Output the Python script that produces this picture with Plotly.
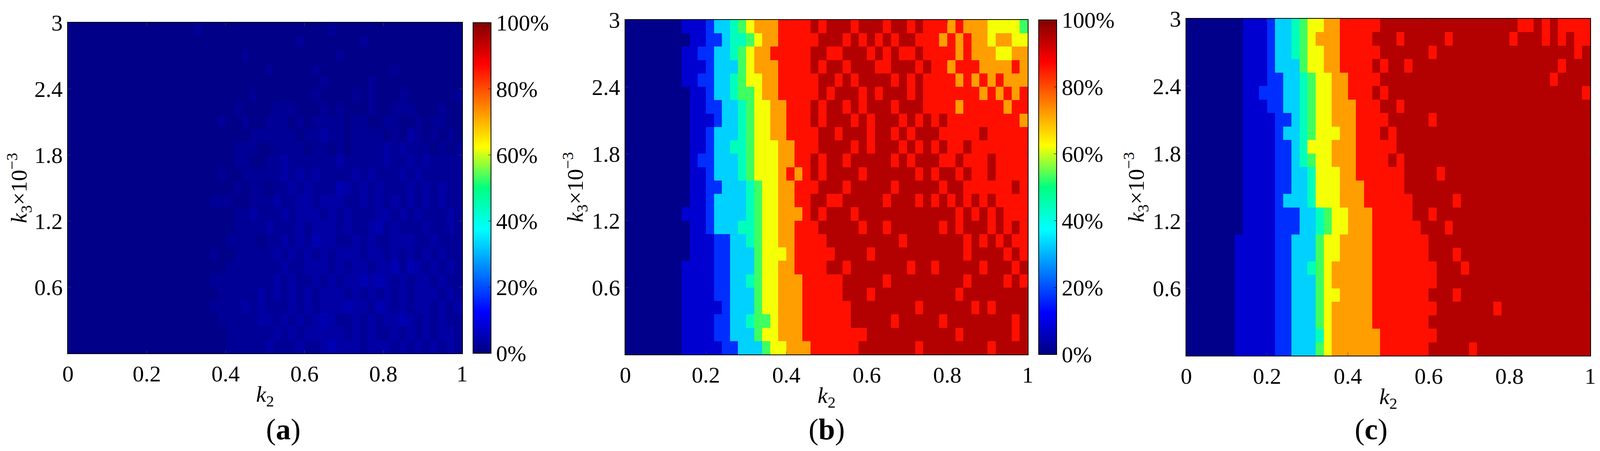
import numpy as np
import plotly.graph_objects as go

# MATLAB-style jet
JET = [[0.0, "rgb(0,0,128)"], [0.125, "rgb(0,0,255)"], [0.375, "rgb(0,255,255)"],
       [0.5, "rgb(0,255,128)"], [0.625, "rgb(255,255,0)"], [0.875, "rgb(255,0,0)"],
       [1.0, "rgb(128,0,0)"]]

K2_CENTERS = np.arange(50) * 0.02 + 0.01
K3_CENTERS = np.arange(25) * 0.12 + 0.06

X_TICKS = [0, 0.2, 0.4, 0.6, 0.8, 1]
X_LABELS = ["0", "0.2", "0.4", "0.6", "0.8", "1"]
Y_TICKS = [0.6, 1.2, 1.8, 2.4, 3]
Y_LABELS = ["0.6", "1.2", "1.8", "2.4", "3"]
CB_TICKS = [0, 20, 40, 60, 80, 100]
CB_LABELS = ["0%", "20%", "40%", "60%", "80%", "100%"]
PANEL_LABELS = ["a", "b", "c"]

# level codes, rows listed top (k3=3) to bottom (k3=0)
LEVEL_A = [0, 0.8, 2.2, 3.6, 5, 6, 7, 8, 9, 10]          # percent, panel (a)
LEVEL_BC = [1, 8, 17, 33, 44, 53, 62, 72, 86, 95]        # percent, panels (b),(c)

rows_a = [
    "11111111111111112111111111111111121111111111111111",
    "11111111111111111111111111111211111112111111111111",
    "11111111111111111111112111111111112111111111111111",
    "11111111111111111111111112111112111111111211111111",
    "11111111111111111111111111111111211111211111111111",
    "11111111111111111111111211111112111121211121111112",
    "11111111111111111111121111222111212111211222111211",
    "11111111111111111112112112221212222122112211212211",
    "11111111111111111111111222222122322122221213212121",
    "11111111111111111111122211222212212122223232221212",
    "11111111111111111111122112232222223222223223232222",
    "11111111111111111112112222232323222232322232322222",
    "11111111111111111111121221223232224323232223232322",
    "11111111111111111122211222322332333223232323232322",
    "11111111111111111111122322232333232322233232322232",
    "11111111111111111111122223222323332322342322232232",
    "11111111111111111111222212232324332232322333223222",
    "11111111111111111121122222323232323332332323232322",
    "11111111111111111111222222232233323233233424323232",
    "11111111111111111122222222323223232334343232332322",
    "11111111111111111112222232323232333232323232333232",
    "11111111111111111122223232223232333433243232332323",
    "11111111111111111112222233232323432232323343232322",
    "11111111111111111111222222323233333232322323232332",
    "11111111111111111111222223222322343332333232323232",
]

rows_b = [
    "00000001112334567778888" + "989998999899898" + "887877766665",
    "00000000112234456778888" + "899989898989988" + "878787767766",
    "00000001122334567788888" + "998899989898898" + "888787776677",
    "00000001112333567778888" + "989989998899989" + "887888777787",
    "00000001122334566778888" + "899898999989898" + "888787878777",
    "00000000112334556778888" + "898999898999898" + "888888787878",
    "00000000112233456677888" + "989989899989998" + "888788888788",
    "00000000111233456677888" + "989998989998989" + "898888888887",
    "00000000112333456677888" + "899899989989899" + "988888988888",
    "00000000112334456667788" + "899998989998989" + "898898888888",
    "00000000122333456667788" + "989989999989899" + "988988898888",
    "00000000112333456667878" + "989999899999989" + "899898898888",
    "00000000112233345667788" + "899989999989999" + "989988888898",
    "00000000112333345667788" + "998899999899989" + "898989898888",
    "00000001112333345667778" + "989998999999999" + "999898989888",
    "00000000112333445667788" + "899999899899999" + "989899989898",
    "00000000111223345667788" + "889999999998999" + "999989898988",
    "00000000111223335666788" + "888999989999999" + "999989999898",
    "00000001111223335667788" + "889989999999899" + "899999899989",
    "00000001111223345667778" + "888899999899999" + "999989999898",
    "00000001111223335667778" + "888899989999999" + "999899999999",
    "00000001111123335667778" + "888889999999989" + "999998989999",
    "00000001111223345567778" + "888889999989999" + "989999999989",
    "00000001111223335667778" + "888888899999999" + "999899999989",
    "00000001111122333566777" + "888888999999989" + "999999989999",
]

rows_c = [
    "00000001112334566778888" + "899999999999999999889898888",
    "00000001112334567778888" + "999899999899999998999898988",
    "00000001112334566778888" + "899999989999999999999999989",
    "00000001112333566778888" + "989989999999999999999998999",
    "00000001112233456677888" + "899999999999999999999989999",
    "00000001122233456677888" + "989999999999999999999999998",
    "00000001112233456677788" + "899899999999999999999999999",
    "00000001111223456677788" + "889999989999999999999999999",
    "00000001111233456667788" + "898999999999999999999999999",
    "00000001111223466677788" + "888999999999999999999999999",
    "00000001111223456677788" + "889899999999999999999999999",
    "00000001111223346667788" + "888899998999999999999999999",
    "00000001111223346667778" + "888899999999999999999999999",
    "00000001111233346667778" + "888889999989999999999999999",
    "00000001111222334566777" + "888889989999999999999999999",
    "00000001111222334566777" + "888888999899999999999999999",
    "00000011111223335667777" + "888888899999999999999999999",
    "00000011111223335667777" + "888888899989999999999999999",
    "00000011111223345677777" + "888888889998999999999999999",
    "00000011111223335677777" + "888888889999999999999999999",
    "00000011111223335667777" + "888888899989999999999999999",
    "00000011111223335677777" + "888888889999999899999999999",
    "00000011111223335677777" + "888888899999999999999999999",
    "00000011111223334677777" + "788888889999999999999999999",
    "00000011111223335677777" + "788888899999899999999999999",
]


def decode(rows, levels):
    grid = []
    for r in rows[::-1]:
        r = (r + r[-1] * 50)[:50]
        grid.append([levels[int(ch)] for ch in r])
    return grid


grids = [decode(rows_a, LEVEL_A), decode(rows_b, LEVEL_BC), decode(rows_c, LEVEL_BC)]

W, H = 4299, 1154
ML, MR, MT, MB = 0, 0, 30, 0
PW, PH = W - ML - MR, H - MT - MB
# pixel boxes: plot x0, x1, y_top, y_bottom, colorbar x0
boxes = [(166, 1175, 50, 896, 1203), (1593, 2623, 43, 899, 2651), (3029, 4063, 40, 902, 4091)]


def px(x):
    return (x - ML) / PW


def py(y):
    return 1 - (y - MT) / PH


FONT = "Liberation Serif"
TICKFONT = dict(family=FONT, size=58, color="black")
fig = go.Figure()
for i, (grid, (x0, x1, yt, yb, cbx)) in enumerate(zip(grids, boxes)):
    n = "" if i == 0 else str(i + 1)
    y0p, y1p = py(yb), py(yt)
    fig.add_trace(go.Heatmap(
        x=K2_CENTERS, y=K3_CENTERS, z=grid, zmin=0, zmax=100,
        colorscale=JET, xaxis="x" + n, yaxis="y" + n,
        colorbar=dict(x=px(cbx), xanchor="left", y=y0p, yanchor="bottom",
                      len=y1p - y0p, lenmode="fraction", thickness=46, thicknessmode="pixels",
                      outlinecolor="black", outlinewidth=2, xpad=0, ypad=0,
                      tickvals=CB_TICKS, ticktext=CB_LABELS, ticks="inside", ticklen=8,
                      tickcolor="black", tickfont=TICKFONT),
    ))
    fig.layout["xaxis" + n] = dict(
        domain=[px(x0), px(x1)], range=[0, 1], anchor="y" + n, automargin=False,
        tickvals=X_TICKS, ticktext=X_LABELS, ticks="inside", ticklen=8, mirror="ticks",
        showline=True, linecolor="black", linewidth=2, showgrid=False, zeroline=False,
        tickfont=TICKFONT,
        title=dict(text="<i>k</i><sub>2</sub>", font=dict(family=FONT, size=58, color="black"), standoff=0),
    )
    fig.layout["yaxis" + n] = dict(
        domain=[y0p, y1p], range=[0, 3], anchor="x" + n, automargin=False,
        tickvals=Y_TICKS, ticktext=Y_LABELS, ticks="inside", ticklen=8, mirror="ticks",
        showline=True, linecolor="black", linewidth=2, showgrid=False, zeroline=False,
        tickfont=TICKFONT,
        title=dict(text="<i>k</i><sub>3</sub>×10<sup>−3</sup>", font=dict(family=FONT, size=58, color="black"), standoff=4),
    )
    fig.add_annotation(
        text=f"(<b>{PANEL_LABELS[i]}</b>)", xref="paper", yref="paper",
        x=px((x0 + x1) / 2), y=py(1090), yanchor="middle", showarrow=False,
        font=dict(family=FONT, size=76, color="black"),
    )

fig.update_layout(
    width=W, height=H, margin=dict(l=ML, r=MR, t=MT, b=MB, autoexpand=False),
    paper_bgcolor="white", plot_bgcolor="white", showlegend=False,
)

fig.write_html("out.html")
